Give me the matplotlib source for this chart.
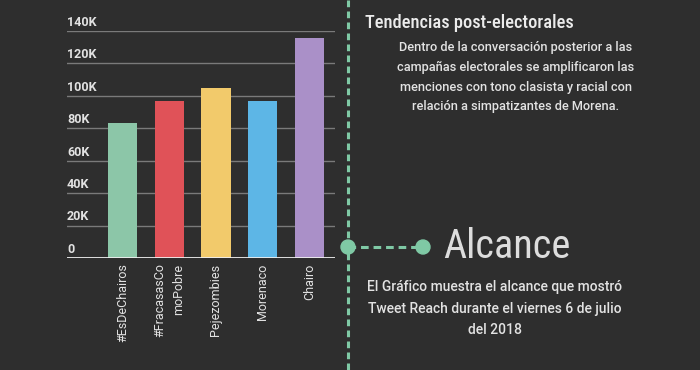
import matplotlib
matplotlib.use("Agg")
import matplotlib.pyplot as plt
from matplotlib.patches import Circle

categories = ["#EsDeChairos", "#FracasasCo\nmoPobre", "Pejezombies", "Morenaco", "Chairo"]
values = [83000, 97000, 105000, 97000, 135500]
colors = ["#8cc6a8", "#e05258", "#f2ca6b", "#5db6e6", "#aa90c8"]
yticks = [0, 20000, 40000, 60000, 80000, 100000, 120000, 140000]
ytick_labels = ["0", "20K", "40K", "60K", "80K", "100K", "120K", "140K"]

BG = "#2e2e2e"
TXT = "#e2e2e2"
GREEN = "#7fc9a5"
W, H = 700, 370

fig = plt.figure(figsize=(7, 3.7), dpi=100, facecolor=BG)

# chart axes (pixel-based placement)
x0, x1, ytop, ybot = 67, 335, 31, 258
ax = fig.add_axes([x0 / W, 1 - ybot / H, (x1 - x0) / W, (ybot - ytop) / H])
ax.set_facecolor(BG)
xs = list(range(len(categories)))
ax.bar(xs, values, width=0.62, color=colors, zorder=3)
ax.set_xlim(-1.18, 4.54)
ax.set_ylim(0, 140000)
for s in ax.spines.values():
    s.set_visible(False)
ax.set_yticks([])
ax.set_xticks(xs)
ax.set_xticklabels(categories, rotation=90, ha="center", va="top",
                   multialignment="right", color=TXT, fontsize=9,
                   linespacing=1.6,
                   family=["Roboto", "DejaVu Sans"])
ax.tick_params(axis="x", length=0, pad=4)
for v, lab in zip(yticks, ytick_labels):
    if v == 0:
        ax.axhline(v, color="#f0f0f0", lw=2, zorder=4)
    else:
        ax.axhline(v, color="#7a7a7a", lw=1, zorder=1)
    ax.annotate(lab, (0, v), xycoords=("axes fraction", "data"),
                xytext=(0, 1.5), textcoords="offset points",
                ha="left", va="bottom", color=TXT, fontsize=9,
                fontweight="bold", family=["Roboto", "DejaVu Sans"],
                annotation_clip=False)

# overlay for decorations
ov = fig.add_axes([0, 0, 1, 1], facecolor="none")
ov.set_xlim(0, W)
ov.set_ylim(H, 0)
ov.axis("off")
ov.plot([348, 348], [0, H], color=GREEN, lw=2.2, ls=(0, (2.2, 1.4)))
ov.plot([348, 423], [247, 247], color=GREEN, lw=2.2, ls=(0, (2.5, 1.6)))
ov.add_patch(Circle((348, 247), 7, color=GREEN, zorder=5))
ov.add_patch(Circle((423, 247), 7, color=GREEN, zorder=5))

narrow = ["Roboto Condensed", "Open Sans Condensed", "DejaVu Sans Condensed",
          "Liberation Sans Narrow", "Roboto"]
ov.text(365, 28, "Tendencias post-electorales", ha="left", va="baseline",
        color="#ececec", fontsize=13.2, fontweight="medium", family=narrow)
para1 = ["Dentro de la conversación posterior a las",
         "campañas electorales se amplificaron las",
         "menciones con tono clasista y racial con",
         "relación a simpatizantes de Morena."]
for i, line in enumerate(para1):
    ov.text(516, 48 + i * 19.5, line, ha="center", va="center", color=TXT,
            fontsize=9.2, fontweight="medium", family=["Roboto", "DejaVu Sans"])
ov.text(443, 258, "Alcance", ha="left", va="baseline", color="#dddddd",
        fontsize=29, family=narrow)
para2 = ["El Gráfico muestra el alcance que mostró",
         "Tweet Reach durante el viernes 6 de julio",
         "del 2018"]
for i, line in enumerate(para2):
    ov.text(495, 287 + i * 21.5, line, ha="center", va="center", color=TXT,
            fontsize=10, fontweight="medium", family=["Roboto", "DejaVu Sans"])

fig.savefig("out.png", dpi=100, facecolor=BG)
